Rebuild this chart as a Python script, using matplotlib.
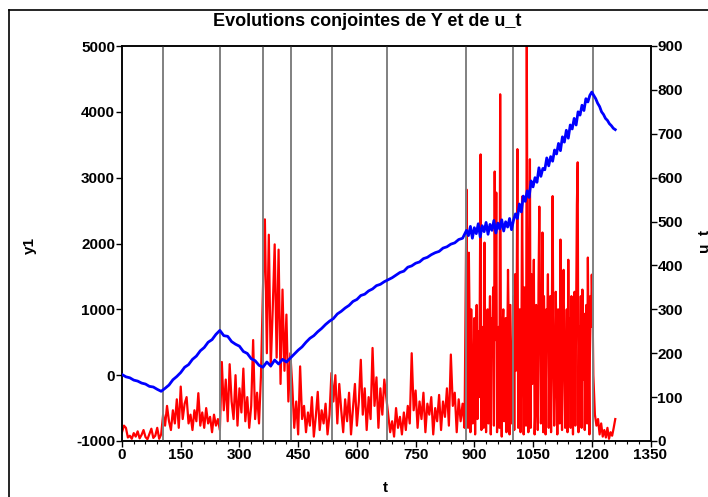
import numpy as np
import matplotlib.pyplot as plt
from matplotlib.ticker import MultipleLocator
from matplotlib.lines import Line2D

plt.rcParams['font.family'] = ['Liberation Sans', 'DejaVu Sans']
plt.rcParams['axes.unicode_minus'] = False

# ---------------------------------------------
# u_t : every 5 steps up to 875, every 2 steps in the volatile
# stretch 880-1204, every 4 steps at the end
# ---------------------------------------------
t_u = np.concatenate([np.arange(0, 876, 5), np.arange(880, 1205, 2), np.arange(1208, 1261, 4)])
u_t = (
    [20, 35, 30, 8, 12, 5, 18, 10, 22, 6, 14, 25, 9, 4, 16, 28, 7, 12, 30, 5, 15]
    + [60, 35, 80, 45, 25, 70, 40, 95, 30, 124, 50, 85, 100, 40, 60, 25, 70, 45, 109, 35,
       65, 30, 75, 40, 55, 20, 60, 35, 50, 25]
    + [180, 70, 140, 45, 175, 90, 50, 150, 35, 120, 65, 165, 45, 100, 30, 80, 230, 50, 110, 40,
       150, 345]
    + [505, 200, 470, 170, 300, 448, 190, 436, 130, 345, 160, 288, 90, 200]
    + [125, 30, 90, 15, 170, 50, 80, 20, 65, 35, 100, 10, 55, 112, 25, 70, 40, 85, 15, 60,
       155, 90]
    + [150, 40, 130, 70, 20, 95, 45, 110, 15, 75, 130, 35, 90, 185, 60, 120, 25, 100, 50, 212,
       80, 145, 30, 120, 60, 140, 100]
    + [60, 20, 45, 10, 75, 30, 55, 15, 65, 25, 80, 40, 200, 70, 115, 30, 90, 50, 110, 20,
       85, 60, 100, 15, 75, 45, 105, 25, 90, 55, 120, 35, 197, 80, 110, 20, 95, 45, 85, 30]
    # 880 - 1204, step 2
    + [573, 220, 30, 429, 260, 20, 300, 180, 40, 120,
       280, 15, 220, 310, 50, 250, 100, 330, 653, 25,
       140, 260, 30, 452, 180, 20, 240, 300, 40, 210,
       330, 15, 280, 200, 350, 35, 614, 230, 566, 20,
       110, 260, 30, 790, 180, 10, 240, 300, 45, 220,
       280, 20, 200, 390, 250, 15, 310, 180, 40, 140,
       330, 25, 380, 160, 290, 665, 30, 120, 300, 20,
       180, 557, 280, 15, 350, 200, 35, 898, 260, 20,
       300, 642, 30, 380, 130, 270, 413, 15, 80, 310,
       240, 25, 360, 534, 280, 40, 110, 475, 20, 330,
       170, 15, 300, 220, 380, 30, 250, 330, 20, 280,
       558, 190, 35, 120, 340, 220, 15, 300, 250, 40,
       459, 200, 25, 310, 390, 170, 30, 60, 300, 20,
       413, 150, 280, 30, 330, 190, 15, 260, 340, 35,
       300, 539, 635, 20, 260, 120, 330, 30, 345, 140,
       290, 25, 200, 310, 40, 418, 180, 15, 330, 260,
       379, 300, 150]
    + [60, 35, 50, 15, 40, 10, 25, 8, 30, 5, 20, 12, 30, 50]
)

# ---------------------------------------------
# y1 : every 10 steps up to 870, then every 5
# ---------------------------------------------
t_y = np.concatenate([np.arange(0, 871, 10), np.arange(880, 1261, 5)])
y1 = (
    [10, -25, -40, -75, -90, -120, -135, -170, -180, -215, -245]
    + [-200, -150, -70, -20, 40, 120, 160, 240, 290, 370, 420, 500, 540, 620, 680]
    + [600, 590, 510, 470, 440, 360, 330, 250, 220, 150, 120]
    + [200, 140, 230, 170, 240, 200, 260]
    + [320, 380, 430, 500, 560, 600, 660, 710, 770, 820, 860, 930, 970, 1020, 1060, 1120, 1150,
       1210, 1230, 1280, 1310, 1360, 1380, 1420, 1450, 1480, 1520, 1560, 1580, 1640, 1660, 1700,
       1720, 1770, 1790, 1830, 1860, 1880, 1930, 1950, 1990, 2010, 2060, 2080]
    + [2200, 2120, 2260, 2080, 2240, 2150, 2300, 2100, 2270, 2180, 2320, 2140, 2290, 2200, 2350,
       2160, 2310, 2220, 2360, 2190, 2330, 2250, 2380, 2210, 2350]
    + [2450, 2380, 2600, 2480, 2720, 2640, 2800, 2700, 2950, 2860, 3000, 2930, 3150, 3020, 3140,
       3120, 3300, 3180, 3320, 3250, 3420, 3360, 3520, 3410, 3620, 3540, 3720, 3600, 3800, 3740,
       3900, 3800, 4000, 3950, 4100, 4020, 4200, 4150, 4250, 4300]
    + [4250, 4200, 4130, 4080, 4000, 3960, 3900, 3870, 3820, 3790, 3750, 3730]
)

# break dates
breaks = [105, 250, 361, 431, 536, 676, 878, 1000, 1204]

W, H = 708, 497
fig = plt.figure(figsize=(W / 100, H / 100), dpi=100)
ax = fig.add_axes([122 / W, 1 - 441 / H, (650.5 - 122) / W, (441 - 46) / H])
ax2 = ax.twinx()
ax.set_zorder(ax2.get_zorder() + 1)
ax.patch.set_visible(False)

ax2.plot(t_u, u_t, color='#ff0000', lw=1.6)
for b in breaks:
    ax.axvline(b, color='#808080', lw=1.4, zorder=1)
ax.plot(t_y, y1, color='#0000ff', lw=2.0, zorder=3)

ax.set_xlim(0, 1350)
ax.set_ylim(-1000, 5000)
ax2.set_ylim(0, 900)

ax.xaxis.set_major_locator(MultipleLocator(150))
ax.xaxis.set_minor_locator(MultipleLocator(30))
ax.yaxis.set_major_locator(MultipleLocator(1000))
ax2.yaxis.set_major_locator(MultipleLocator(100))

lab = dict(fontsize=11, fontweight='bold')
for a in (ax, ax2):
    a.tick_params(which='major', length=4, width=1, pad=1, labelsize=11)
    a.tick_params(which='minor', length=2.5, width=0.8)
    for s in a.spines.values():
        s.set_linewidth(1.1)
for lbl in ax.get_xticklabels() + ax.get_yticklabels() + ax2.get_yticklabels():
    lbl.set_fontweight('bold')

# outer frame (left and top edges)
fig.add_artist(Line2D([9 / W, 9 / W], [0, 1 - 10 / H], transform=fig.transFigure, color='k', lw=1.2))
fig.add_artist(Line2D([9 / W, 1], [1 - 10 / H, 1 - 10 / H], transform=fig.transFigure, color='k', lw=1.2))

fig.text(367 / W, 1 - 21 / H, "Evolutions conjointes de Y et de u_t", ha='center', va='center',
         fontsize=13, fontweight='bold')
fig.text(30 / W, 1 - 245 / H, "y1", ha='center', va='center', rotation=90, **lab)
fig.text(704 / W, 1 - 240 / H, "u_t", ha='center', va='center', rotation=90, **lab)
fig.text(385 / W, 1 - 488 / H, "t", ha='center', va='center', **lab)

fig.savefig("out.png", dpi=100)
